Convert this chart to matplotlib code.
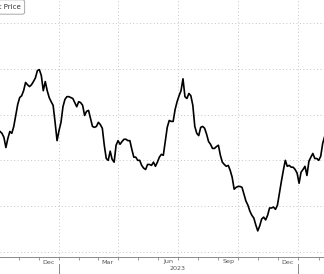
import pandas as pd
import numpy as np
import matplotlib
matplotlib.use("Agg")
import matplotlib.pyplot as plt
import matplotlib.dates as mdates
import matplotlib.transforms as mtrans

# price series, one point every 3 days from the start date
start_date = "2022-10-03"
price = [
    86.3, 85.9, 85.0, 82.8, 84.8, 86.3, 85.9, 87.4, 89.8, 92.2,
    93.7, 94.1, 95.2, 97.0, 96.5, 96.1, 96.5, 97.2, 98.0, 99.6,
    99.8, 98.5, 95.2, 97.2, 95.2, 93.7, 92.8, 92.0, 88.3, 84.3,
    86.5, 88.3, 91.7, 93.3, 93.9, 93.9, 93.7, 93.5, 92.6, 91.7,
    92.8, 92.6, 92.0, 89.8, 90.7, 90.9, 89.1, 87.4, 87.2, 87.4,
    88.3, 87.8, 87.0, 83.3, 80.4, 80.0, 82.0, 80.2, 79.6, 83.3,
    84.3, 83.5, 84.1, 84.6, 84.6, 84.3, 84.3, 82.4, 80.7, 80.7,
    80.0, 80.0, 78.9, 78.3, 78.0, 79.1, 79.1, 78.9, 79.6, 78.7,
    79.6, 80.7, 81.3, 81.1, 84.1, 87.2, 88.7, 88.5, 88.5, 91.1,
    92.8, 94.1, 95.2, 97.8, 93.9, 93.5, 94.6, 94.1, 92.0, 87.4,
    85.9, 85.4, 87.2, 87.4, 87.0, 85.7, 84.1, 83.5, 82.6, 82.6,
    83.0, 83.3, 81.1, 79.6, 79.1, 78.7, 78.9, 77.8, 76.3, 73.7,
    74.1, 74.3, 74.3, 74.1, 72.6, 71.1, 70.2, 68.9, 68.0, 67.4,
    65.9, 64.6, 65.7, 67.2, 67.6, 67.0, 68.0, 69.6, 69.6, 69.8,
    69.3, 70.2, 72.8, 75.4, 77.8, 80.0, 78.7, 78.9, 78.5, 78.5,
    78.0, 77.2, 75.0, 77.4, 78.0, 78.7, 76.7, 79.8, 80.7, 81.5,
    80.4, 80.4, 80.0, 80.9, 83.7, 85.2,
]
grid_levels = [60, 70, 80, 90, 100, 110]
month_labels = ["Dec", "Mar", "Jun", "Sep", "Dec"]
month_label_dates = ["2022-12-16", "2023-03-16", "2023-06-16", "2023-09-16", "2023-12-16"]
year_label = "2023"
year_label_date = "2023-07-01"
year_breaks = ["2023-01-01", "2024-01-01"]

dates = pd.date_range(start_date, periods=len(price), freq="3D")

fig = plt.figure(figsize=(3.24, 2.74), dpi=100)
ax = fig.add_axes([0, 17 / 274, 1, 257 / 274])

ax.plot(dates, price, color="black", lw=1.2)

ax.set_xlim(pd.Timestamp("2022-10-03"), pd.Timestamp("2024-02-09"))
ax.set_ylim(58.9, 115.0)

grid_kw = dict(color="#c4c4c4", lw=0.7, linestyle=(0, (1, 2.5)))
ax.set_yticks(grid_levels)
ax.yaxis.grid(True, **grid_kw)
ax.xaxis.set_major_locator(mdates.MonthLocator(bymonth=[1, 4, 7, 10]))
ax.xaxis.set_minor_locator(mdates.MonthLocator())
ax.xaxis.grid(True, which="major", **grid_kw)
ax.tick_params(axis="y", length=0, labelleft=False)
ax.tick_params(axis="x", which="both", length=2.5, width=0.6, color="#8a8a8a",
               labelbottom=False, direction="out")

for s in ["top", "left", "right"]:
    ax.spines[s].set_visible(False)
ax.spines["bottom"].set_color("#8a8a8a")
ax.spines["bottom"].set_linewidth(0.7)

tr = mtrans.blended_transform_factory(ax.transData, fig.transFigure)
for lab, d in zip(month_labels, month_label_dates):
    ax.text(pd.Timestamp(d), 1 - 262 / 274, lab, transform=tr, ha="center",
            va="center", fontsize=4.6, color="#555555")
ax.text(pd.Timestamp(year_label_date), 1 - 269 / 274, year_label, transform=tr,
        ha="center", va="center", fontsize=4.6, color="#555555")
for d in year_breaks:
    ax.plot([pd.Timestamp(d)] * 2, [0, 1 - 264 / 274], transform=tr,
            color="#8a8a8a", lw=0.7, clip_on=False)

# legend box, cut off at the left edge like the reference
fig.text(20.5 / 324, 1 - 7 / 274, "Last Price", ha="right", va="center",
         fontsize=5, color="#333333",
         family=["Liberation Sans Narrow", "DejaVu Sans"],
         bbox=dict(boxstyle="round,pad=0.6,rounding_size=0.3", fc="white",
                   ec="#9a9a9a", lw=0.6))

fig.savefig("out.png", dpi=100)
